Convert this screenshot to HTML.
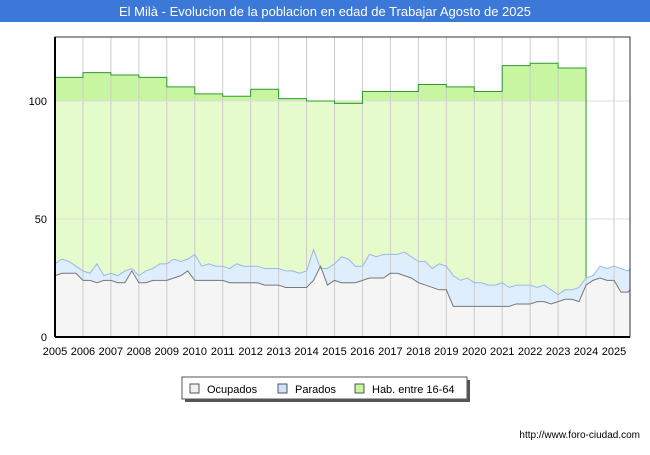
<!DOCTYPE html>
<html><head><meta charset="utf-8"><style>
body{margin:0;width:650px;height:450px;background:#fff;font-family:"Liberation Sans",sans-serif;overflow:hidden}
</style></head><body>
<svg id="c" width="650" height="450" xmlns="http://www.w3.org/2000/svg" font-family="Liberation Sans, sans-serif">
<rect x="0" y="0" width="650" height="22" fill="#3b78d8"/>
<text x="325" y="16" text-anchor="middle" font-size="13" fill="#fff">El Milà - Evolucion de la poblacion en edad de Trabajar Agosto de 2025</text>
<g id="plot"></g>
<text x="640" y="438" text-anchor="end" font-size="10" fill="#000">http://www.foro-ciudad.com</text>
<g>
<rect x="185" y="380" width="285" height="22" fill="#555"/>
<rect x="182" y="377" width="285" height="22" fill="#fff" stroke="#555"/>
<rect x="190" y="384" width="9" height="9" fill="#f0f0f0" stroke="#555"/>
<text x="207" y="393" font-size="11">Ocupados</text>
<rect x="278" y="384" width="9" height="9" fill="#cfe2fb" stroke="#555"/>
<text x="295" y="393" font-size="11">Parados</text>
<rect x="355" y="384" width="9" height="9" fill="#c8f5a0" stroke="#555"/>
<text x="372" y="393" font-size="11">Hab. entre 16-64</text>
</g>
</svg>
<script>
const years=[2005,2006,2007,2008,2009,2010,2011,2012,2013,2014,2015,2016,2017,2018,2019,2020,2021,2022,2023,2024,2025];
const yTicks=[0,50,100];
const habYears=[2005,2006,2007,2008,2009,2010,2011,2012,2013,2014,2015,2016,2017,2018,2019,2020,2021,2022,2023];
const habValues=[110,112,111,110,106,103,102,105,101,100,99,104,104,107,106,104,115,116,114];
const ocupados=[26,27,27,27,24,24,23,24,24,23,23,28,23,23,24,24,24,25,26,28,24,24,24,24,24,23,23,23,23,23,22,22,22,21,21,21,21,24,30,22,24,23,23,23,24,25,25,25,27,27,26,25,23,22,21,20,20,13,13,13,13,13,13,13,13,13,14,14,14,15,15,14,15,16,16,15,22,24,25,24,24,19,19,20];
const totalActivos=[31,33,32,30,28,27,31,26,27,26,28,29,26,28,29,31,31,33,32,33,35,30,31,30,30,29,31,30,30,30,29,29,29,28,28,27,28,37,29,29,31,34,33,30,30,35,34,35,35,35,36,34,32,32,29,31,30,26,24,25,23,23,22,22,23,21,22,22,22,21,22,20,18,20,20,21,25,26,30,29,30,29,28,29];
const X0=55,PX=27.95,Y0=337,PY=2.36,XEND=630;
const xs=t=>X0+(t-2005)*PX, ys=v=>Y0-v*PY;
const tq=i=>Math.min(2005+i*0.25, 2005+(XEND-X0)/PX);
const g=document.getElementById('plot');
const NS='http://www.w3.org/2000/svg';
function mk(tag,a){const e=document.createElementNS(NS,tag);for(const k in a)e.setAttribute(k,a[k]);g.appendChild(e);return e;}
const bg=mk('rect',{x:X0,y:37,width:XEND-X0,height:300,fill:'#fff'});


// hab area
let hp='M'+xs(habYears[0])+','+Y0;
habYears.forEach((y,i)=>{hp+=' L'+xs(y)+','+ys(habValues[i])+' L'+xs(y+1)+','+ys(habValues[i]);});
hp+=' L'+xs(habYears[habYears.length-1]+1)+','+Y0+'Z';
const ha=mk('path',{d:hp,fill:'#e6fbcc'});


// band top strip (dark green between 100 and value)
let lp='';habYears.forEach((y,i)=>{lp+=(i?' L':'M')+xs(y)+','+ys(habValues[i])+' L'+xs(y+1)+','+ys(habValues[i]);});
const hs=mk('path',{d:lp+' L'+xs(2024)+','+ys(100)+' L'+xs(2005)+','+ys(100)+'Z',fill:'#c8f5a0'});


function area(arr){let p='M'+xs(tq(0))+','+Y0;arr.forEach((v,i)=>p+=' L'+xs(tq(i))+','+ys(v));return p+' L'+xs(tq(arr.length-1))+','+Y0+'Z';}
function line(arr){let p='';arr.forEach((v,i)=>p+=(i?' L':'M')+xs(tq(i))+','+ys(v));return p;}
const pa=mk('path',{d:area(totalActivos),fill:'#dfeefd'});


const oa=mk('path',{d:area(ocupados),fill:'#f5f5f5'});


// grid
years.forEach(y=>{const l=mk('line',{x1:xs(y),x2:xs(y),y1:37,y2:Y0,stroke:'#ccc','stroke-width':1});


const t=mk('text',{x:xs(y),y:355,'text-anchor':'middle','font-size':11});t.textContent=y;

});
yTicks.forEach(v=>{const l=mk('line',{x1:X0,x2:XEND,y1:ys(v),y2:ys(v),stroke:'#ddd'});


const t=mk('text',{x:47,y:ys(v)+4,'text-anchor':'end','font-size':11});t.textContent=v;

});
const hl=mk('path',{d:lp+' L'+xs(2024)+','+ys(totalActivos[76]),fill:'none',stroke:'#2e9a2e','stroke-width':1});


const pl=mk('path',{d:line(totalActivos),fill:'none',stroke:'#9ab8e8','stroke-width':1});


const ol=mk('path',{d:line(ocupados),fill:'none',stroke:'#777','stroke-width':1});


const fr=mk('rect',{x:X0,y:37,width:XEND-X0,height:300,fill:'none',stroke:'#333'});


const ax=mk('line',{x1:X0,x2:X0,y1:37,y2:Y0,stroke:'#000','stroke-width':2});


const bx=mk('line',{x1:X0,x2:XEND,y1:Y0,y2:Y0,stroke:'#000','stroke-width':2});


</script>
</body></html>
